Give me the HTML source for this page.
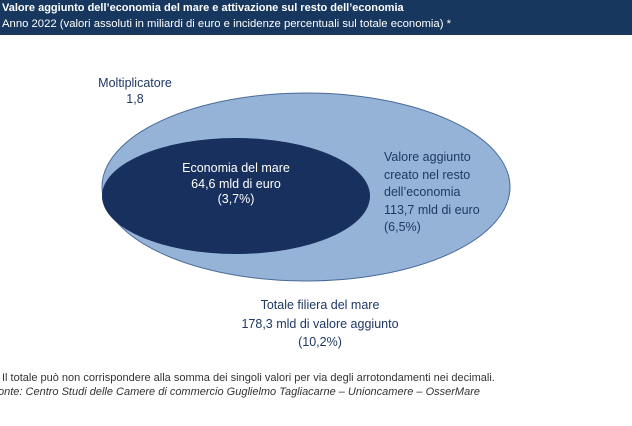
<!DOCTYPE html>
<html><head><meta charset="utf-8"><style>
body{margin:0;width:632px;height:426px;background:#fff;overflow:hidden;font-family:"Liberation Sans",sans-serif;position:relative}
.hdr{position:absolute;left:0;top:0;width:632px;height:35px;background:#17375e;color:#fff;font-size:11.3px}
.t{position:absolute;font-size:12.5px;color:#1f3864;text-align:center;line-height:15.5px}
.f{position:absolute;left:2px;font-size:11px;color:#333;white-space:nowrap}
</style></head><body>
<div class="hdr"><div style="position:absolute;left:2px;top:2px;font-weight:bold;font-size:11px">Valore aggiunto dell’economia del mare e attivazione sul resto dell’economia</div>
<div style="position:absolute;left:2px;top:18px">Anno 2022 (valori assoluti in miliardi di euro e incidenze percentuali sul totale economia) *</div></div>
<svg width="632" height="426" style="position:absolute;left:0;top:0">
<ellipse cx="306" cy="187" rx="204" ry="94" fill="#95b3d7" stroke="#4a6a9a" stroke-width="1"/>
<ellipse cx="236" cy="196" rx="134" ry="58" fill="#17305e"/>
</svg>
<div class="t" style="left:80px;top:76px;width:110px">Moltiplicatore<br>1,8</div>
<div class="t" style="left:156px;top:161px;width:160px;color:#fff">Economia del mare<br>64,6 mld di euro<br>(3,7%)</div>
<div class="t" style="left:384px;top:149px;text-align:left;line-height:17.5px">Valore aggiunto<br>creato nel resto<br>dell’economia<br>113,7 mld di euro<br>(6,5%)</div>
<div class="t" style="left:200px;top:296px;width:240px;line-height:18.5px">Totale filiera del mare<br>178,3 mld di valore aggiunto<br>(10,2%)</div>
<div class="f" style="top:372px">Il totale può non corrispondere alla somma dei singoli valori per via degli arrotondamenti nei decimali.</div>
<div class="f" style="top:386px;left:-2px;font-style:italic">onte: Centro Studi delle Camere di commercio Guglielmo Tagliacarne – Unioncamere – OsserMare</div>
</body></html>
